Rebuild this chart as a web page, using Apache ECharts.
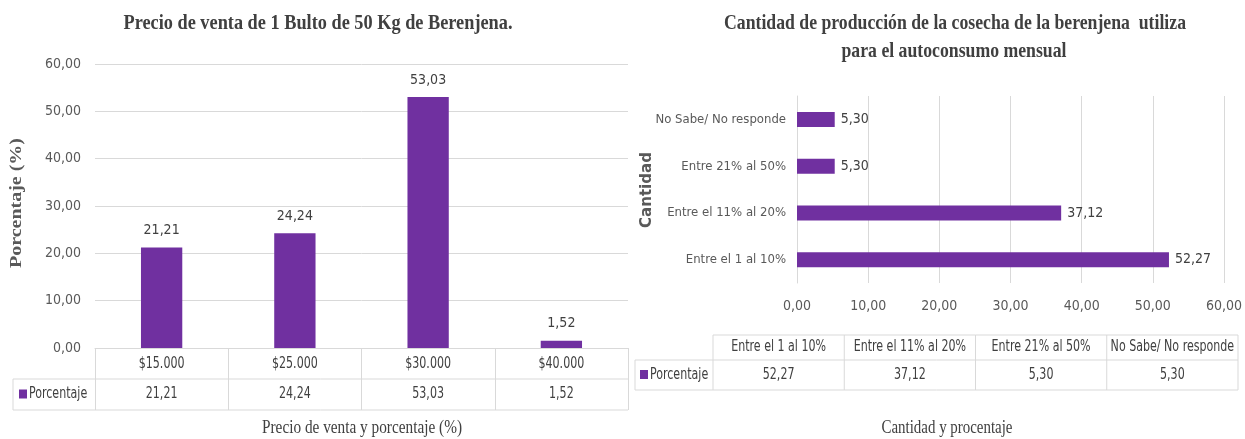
<!DOCTYPE html>
<html>
<head>
<meta charset="utf-8">
<script src="https://cdn.jsdelivr.net/npm/echarts@6/dist/echarts.min.js"></script>
<style>
  html, body { margin: 0; padding: 0; background: #fff; }
  #main { width: 1245px; height: 439px; }
</style>
</head>
<body>
<div id="main"></div>
<script>
// datos de las dos gráficas
var precioCategorias = ['$15.000', '$25.000', '$30.000', '$40.000'];
var precioValores = [21.21, 24.24, 53.03, 1.52];
var consumoCategorias = ['Entre el 1 al 10%', 'Entre el 11% al 20%', 'Entre 21% al 50%', 'No Sabe/ No responde'];
var consumoValores = [52.27, 37.12, 5.30, 5.30];
var serieNombre = 'Porcentaje';
var ejeMin = 0, ejeMax = 60, ejeIntervalo = 10;

var morado = '#7030A0';
var gris = '#d9d9d9';
var narrow = "'Liberation Sans Narrow', 'DejaVu Sans Condensed', sans-serif";
var serif = "'Liberation Serif', 'DejaVu Serif', serif";
var fCelda = '15px ' + narrow;
var compresion = 0.82; // la imagen original está comprimida a lo ancho

function coma(v) {
  return Number(v).toFixed(2).replace('.', ',');
}

// para imitar el texto comprimido de la imagen
var ctx = document.createElement('canvas').getContext('2d');
function escala(texto, font, ancho) {
  ctx.font = font;
  return ancho / ctx.measureText(texto).width;
}
function texto(t, x, y, font, color, sx, align, rot) {
  return {
    type: 'text', x: x, y: y, rotation: rot || 0, scaleX: sx,
    style: { text: t, font: font, fill: color, align: align || 'center', verticalAlign: 'middle',
             textAlign: align || 'center', textVerticalAlign: 'middle' }
  };
}
function textoAjustado(t, x, y, font, ancho, color, rot) {
  return texto(t, x, y, font, color, escala(t, font, ancho), 'center', rot);
}

var chart = echarts.init(document.getElementById('main'));

var option = {
  animation: false,
  grid: [
    { left: 95, right: 617, top: 64, bottom: 91 },
    { left: 797, right: 21, top: 96, bottom: 156 }
  ],
  xAxis: [
    {
      gridIndex: 0, type: 'category', data: precioCategorias,
      axisLine: { lineStyle: { color: gris } },
      axisTick: { show: true, length: 62, interval: 0, lineStyle: { color: gris } },
      axisLabel: { show: false } // las categorías van en la tabla
    },
    {
      gridIndex: 1, type: 'value', min: ejeMin, max: ejeMax, interval: ejeIntervalo,
      axisLine: { show: false }, axisTick: { show: false },
      splitLine: { lineStyle: { color: gris } },
      axisLabel: { margin: 16, fontSize: 14, fontFamily: narrow, color: '#595959', formatter: coma }
    }
  ],
  yAxis: [
    {
      gridIndex: 0, type: 'value', min: ejeMin, max: ejeMax, interval: ejeIntervalo,
      axisLine: { show: false }, axisTick: { show: false },
      splitLine: { lineStyle: { color: gris } },
      axisLabel: { margin: 14, fontSize: 14, fontFamily: narrow, color: '#595959', formatter: coma }
    },
    {
      gridIndex: 1, type: 'category', data: consumoCategorias,
      axisLine: { show: true, lineStyle: { color: gris } }, axisTick: { show: false },
      axisLabel: { margin: 11, fontSize: 13, fontFamily: narrow, color: '#595959' }
    }
  ],
  series: [
    {
      name: serieNombre, type: 'bar', xAxisIndex: 0, yAxisIndex: 0,
      data: precioValores, barWidth: '31%',
      itemStyle: { color: morado },
      label: { show: true, position: 'top', distance: 10, fontSize: 14, fontFamily: narrow,
               color: '#404040', formatter: function (p) { return coma(p.value); } }
    },
    {
      name: serieNombre, type: 'bar', xAxisIndex: 1, yAxisIndex: 1,
      data: consumoValores, barWidth: 15,
      itemStyle: { color: morado },
      label: { show: true, position: 'right', distance: 6, fontSize: 14, fontFamily: narrow,
               color: '#404040', formatter: function (p) { return coma(p.value); } }
    }
  ]
};
chart.setOption(option);

// tablas de datos y textos
var g = [];
var fTitulo = 'bold 22px ' + serif;
g.push(textoAjustado('Precio de venta de 1 Bulto de 50 Kg de Berenjena.', 318, 23, fTitulo, 389, '#404040'));
g.push(textoAjustado('Cantidad de producción de la cosecha de la berenjena  utiliza', 955, 23, fTitulo, 462, '#404040'));
g.push(textoAjustado('para el autoconsumo mensual', 954, 51, fTitulo, 225, '#404040'));
g.push(textoAjustado('Porcentaje (%)', 17, 203, 'bold 16px ' + serif, 130, '#595959', Math.PI / 2));
g.push(textoAjustado('Cantidad', 647, 190, 'bold 15px DejaVu Sans', 76, '#595959', Math.PI / 2));
g.push(textoAjustado('Precio de venta y porcentaje (%)', 362, 428, '18px ' + serif, 200, '#404040'));
g.push(textoAjustado('Cantidad y procentaje', 947, 428, '18px ' + serif, 131, '#404040'));

function linea(x1, y1, x2, y2) {
  g.push({ type: 'line', shape: { x1: x1, y1: y1, x2: x2, y2: y2 }, style: { stroke: gris, lineWidth: 1 } });
}
function celdaLeyenda(x, y) {
  g.push({ type: 'rect', shape: { x: x, y: y - 5, width: 8, height: 9 }, style: { fill: morado } });
  g.push(texto(serieNombre, x + 10, y, fCelda, '#404040', compresion, 'left'));
}
function celdaTexto(t, x, y) {
  g.push(texto(t, x, y, fCelda, '#404040', compresion, 'center'));
}

// tabla izquierda: columnas alineadas con las categorías del eje
var izq = { izquierda: 13, inicio: 95, fin: 628, fila1: 348, fila2: 379, fondo: 410 };
linea(izq.izquierda, izq.fila2, izq.fin, izq.fila2);
linea(izq.izquierda, izq.fondo, izq.fin, izq.fondo);
linea(izq.izquierda, izq.fila2, izq.izquierda, izq.fondo);
celdaLeyenda(19, (izq.fila2 + izq.fondo) / 2);
precioCategorias.forEach(function (c, i) {
  var x = chart.convertToPixel({ xAxisIndex: 0 }, c);
  celdaTexto(c, x, (izq.fila1 + izq.fila2) / 2 + 1);
  celdaTexto(coma(precioValores[i]), x, (izq.fila2 + izq.fondo) / 2);
});

// tabla derecha
var der = { izquierda: 635, inicio: 713, fin: 1238, fila1: 335, fila2: 360, fondo: 390 };
var anchoCol = (der.fin - der.inicio) / consumoCategorias.length;
linea(der.inicio, der.fila1, der.fin, der.fila1);
linea(der.izquierda, der.fila2, der.fin, der.fila2);
linea(der.izquierda, der.fondo, der.fin, der.fondo);
linea(der.izquierda, der.fila2, der.izquierda, der.fondo);
for (var k = 0; k <= consumoCategorias.length; k++) {
  linea(der.inicio + k * anchoCol, der.fila1, der.inicio + k * anchoCol, der.fondo);
}
celdaLeyenda(640, (der.fila2 + der.fondo) / 2);
consumoCategorias.forEach(function (c, i) {
  var x = der.inicio + (i + 0.5) * anchoCol;
  celdaTexto(c, x, (der.fila1 + der.fila2) / 2);
  celdaTexto(coma(consumoValores[i]), x, (der.fila2 + der.fondo) / 2);
});

chart.setOption({ graphic: { elements: g } });
</script>
</body>
</html>
